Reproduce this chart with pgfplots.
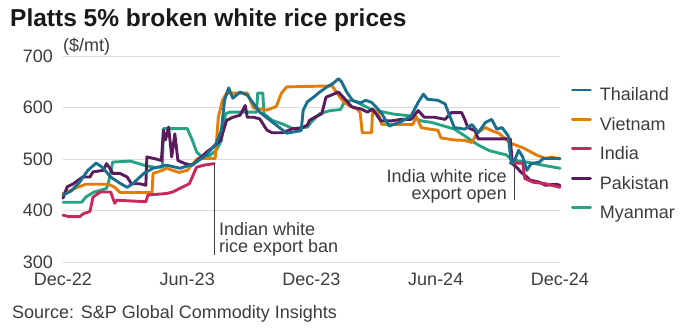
\documentclass[border=0pt]{standalone}
\usepackage{fontspec}
\setmainfont{Liberation Sans}
\usepackage{pgfplots}
\pgfplotsset{compat=1.18}
\definecolor{cThai}{HTML}{1A6F8E}
\definecolor{cViet}{HTML}{E37D0A}
\definecolor{cIndia}{HTML}{C8285E}
\definecolor{cPak}{HTML}{5A1B5E}
\definecolor{cMyan}{HTML}{27A283}
\definecolor{cText}{HTML}{3C3C3C}
\definecolor{cGrid}{HTML}{DCDCDC}
\newcommand{\fs}{\fontsize{18}{17}\selectfont}
\begin{document}
\begin{tikzpicture}[x=1pt,y=1pt]
\useasboundingbox (0,0) rectangle (680,333);
\node[anchor=base west,inner sep=0pt,text=black!90] at (10,307) {\fontsize{24.5}{24}\selectfont\bfseries Platts 5\% broken white rice prices};
\node[anchor=base west,inner sep=0pt,text=cText] at (12,15) {\fs Source: S\&P Global Commodity Insights};
\node[anchor=base west,inner sep=0pt,text=cText] at (63,282) {\fs (\$/mt)};
\begin{axis}[
  at={(63pt,71pt)}, anchor=south west,
  scale only axis, width=497pt, height=206pt,
  xmin=0, xmax=24, ymin=300, ymax=700,
  axis line style={draw=none}, major tick length=0pt, clip=false,
  ytick={300,400,500,600,700},
  xtick={0,6,12,18,24},
  xticklabels={Dec-22,Jun-23,Dec-23,Jun-24,Dec-24},
  /pgf/number format/assume math mode=true,
  tick label style={font=\fs, text=cText, inner sep=0pt},
  yticklabel style={xshift=-10pt},
  xticklabel style={yshift=-11pt},
  ymajorgrids, major grid style={cGrid, line width=0.8pt},
  every axis plot/.append style={line width=2.9pt, line join=round, line cap=round},
  legend style={at={(1,0.845)}, anchor=north west, xshift=11pt, draw=none, fill=none,
    inner sep=0pt, outer sep=0pt, row sep=12.4pt, column sep=8pt,
    font=\fs, text=cText,
    nodes={inner sep=0pt, text height=13pt, text depth=4pt}},
  legend cell align=left,
  legend image code/.code={\draw[line width=2.9pt] (0pt,6.4pt) -- (18pt,6.4pt);},
]
\addlegendimage{cThai}\addlegendentry{Thailand}
\addlegendimage{cViet}\addlegendentry{Vietnam}
\addlegendimage{cIndia}\addlegendentry{India}
\addlegendimage{cPak}\addlegendentry{Pakistan}
\addlegendimage{cMyan}\addlegendentry{Myanmar}
% Myanmar
\addplot[cMyan, forget plot] coordinates {(0,416)(0.9,416)(1.1,426)(1.5,436)(1.8,439)(2.1,443)(2.2,455)(2.4,494)(3.25,496)(3.9,488)(4.4,484)(4.8,484)(4.85,559)(6.0,559)(6.25,536)(6.45,514)(6.7,504)(7.1,507)(7.4,517)(7.65,536)(7.85,588)(8.05,591)(9.35,591)(9.4,628)(9.65,628)(9.7,588)(10.1,575)(10.6,568)(11.1,559)(11.8,562)(12.0,572)(12.4,588)(12.9,594)(13.4,596)(13.6,612)(14.0,614)(14.5,604)(15.0,594)(15.5,591)(16.0,587)(16.7,584)(17.3,574)(17.8,571)(18.4,564)(18.9,558)(19.4,545)(19.75,535)(20.1,526)(20.6,516)(21.0,512)(21.4,508)(21.7,498)(22.4,494)(23.3,487)(24,482)};
% Vietnam
\addplot[cViet, forget plot] coordinates {(0,433)(0.7,445)(1.1,451)(2.2,451)(2.5,445)(2.75,435)(4.3,435)(4.35,472)(4.8,478)(5.0,482)(5.6,474)(6.0,478)(6.2,488)(6.5,501)(7.35,501)(7.5,581)(7.7,614)(7.9,628)(8.9,628)(9.2,599)(9.85,595)(10.3,602)(10.55,628)(10.8,640)(13.0,642)(13.3,624)(13.55,611)(13.8,604)(14.2,597)(14.35,590)(14.45,551)(14.9,551)(14.95,594)(15.2,591)(15.4,567)(16.9,567)(17.05,583)(17.3,561)(17.7,558)(18.1,556)(18.25,541)(18.9,537)(19.4,536)(19.75,532)(20.0,551)(20.4,561)(20.7,555)(21.05,550)(21.6,531)(22.25,521)(22.85,508)(23.3,501)(23.6,504)(24,500)};
% Pakistan
\addplot[cPak, forget plot] coordinates {(0,424)(0.2,446)(0.5,452)(0.95,465)(1.3,465)(1.45,475)(1.95,478)(2.1,491)(2.3,480)(2.4,472)(2.75,472)(3.1,465)(3.3,452)(3.7,452)(4.0,449)(4.05,504)(4.5,500)(4.75,497)(4.85,556)(4.95,537)(5.1,562)(5.25,504)(5.4,549)(5.55,497)(5.9,491)(6.25,488)(6.6,501)(6.95,514)(7.25,523)(7.6,536)(7.9,575)(8.2,581)(8.55,585)(8.8,604)(8.9,581)(9.2,581)(9.5,578)(9.85,556)(10.1,551)(10.6,551)(11.1,559)(11.5,559)(11.8,566)(11.9,575)(12.2,582)(12.5,588)(12.7,620)(12.95,624)(13.3,630)(13.6,617)(13.95,601)(14.4,597)(14.7,591)(14.95,597)(15.35,574)(15.85,574)(16.35,577)(16.8,577)(17.15,594)(17.45,581)(17.95,581)(18.45,577)(18.75,590)(19.25,590)(19.4,577)(19.55,561)(19.9,555)(20.05,539)(21.6,539)(21.7,491)(21.95,482)(22.1,475)(22.4,465)(22.55,459)(23.0,455)(23.3,449)(23.8,451)(24,449)};
% India
\addplot[cIndia, forget plot] coordinates {(0,391)(0.3,388)(0.8,388)(1.0,394)(1.3,398)(1.45,426)(1.8,436)(2.3,436)(2.5,414)(2.6,420)(4.0,417)(4.1,430)(5.0,433)(5.3,436)(5.65,443)(6.1,452)(6.45,484)(6.8,488)(7.3,491)};
\addplot[cIndia, forget plot] coordinates {(21.6,492)(22.2,492)(22.3,462)(22.7,455)(23.3,452)(24,445)};
% Thailand
\addplot[cThai, forget plot] coordinates {(0,430)(0.4,438)(0.8,455)(1.2,478)(1.6,492)(1.9,484)(2.3,465)(2.75,453)(3.1,445)(3.4,453)(3.9,472)(4.35,482)(5.0,488)(5.65,482)(6.3,490)(6.9,507)(7.4,530)(7.65,556)(7.8,614)(8.0,638)(8.2,618)(8.55,630)(8.9,624)(9.5,591)(10.1,572)(10.8,550)(11.2,553)(11.5,555)(11.6,595)(11.8,611)(12.1,620)(12.4,630)(12.75,640)(13.05,647)(13.3,656)(13.45,650)(13.7,630)(14.0,613)(14.4,609)(14.6,614)(14.9,610)(15.35,591)(15.75,564)(16.3,572)(16.8,583)(17.15,610)(17.4,626)(17.6,616)(18.1,614)(18.45,607)(18.7,581)(18.9,561)(19.4,558)(19.75,567)(20.05,551)(20.4,571)(20.7,577)(20.95,558)(21.2,561)(21.5,545)(21.65,491)(21.85,501)(22.0,517)(22.2,504)(22.4,478)(22.6,491)(23.0,494)(23.2,501)(24,501)};
% annotations
\draw[cText, line width=0.6pt] (axis cs:7.29,492) -- (axis cs:7.29,314);
\draw[cText, line width=0.6pt] (axis cs:21.78,489) -- (axis cs:21.78,420);
\node[anchor=base west, inner sep=0pt, text=cText, font=\fs, align=left] at (axis cs:7.53,317.5) {Indian white\\rice export ban};
\node[anchor=base east, inner sep=0pt, text=cText, font=\fs, align=right] at (axis cs:21.44,420.4) {India white rice\\export open};
\end{axis}
\end{tikzpicture}
\end{document}
